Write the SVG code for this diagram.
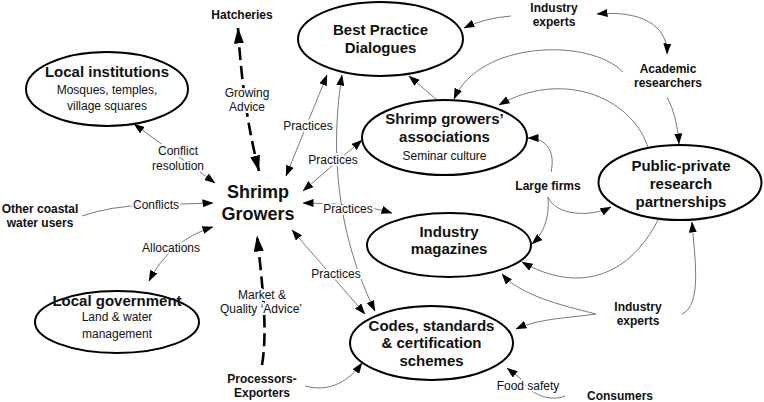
<svg xmlns="http://www.w3.org/2000/svg" width="764" height="402" viewBox="0 0 764 402">
<defs>
<marker id="ah" markerUnits="userSpaceOnUse" markerWidth="11" markerHeight="8" refX="10.5" refY="4" orient="auto-start-reverse" viewBox="0 0 11 8"><path d="M0,0 L11,4 L0,8 z" fill="#000"/></marker>
<marker id="ahb" markerUnits="userSpaceOnUse" markerWidth="16" markerHeight="10" refX="15.5" refY="5" orient="auto-start-reverse" viewBox="0 0 16 10"><path d="M0,0 L16,5 L0,10 z" fill="#000"/></marker>
</defs>
<style>
.node ellipse{fill:#fff;stroke:#000;stroke-width:2}
text{font-family:"Liberation Sans",Arial,sans-serif;text-anchor:middle;fill:#111}
.t{font-size:15px;font-weight:bold}
.st{font-size:12px}
.big{font-size:18px;font-weight:bold}
.ext{font-size:12px;font-weight:bold}
.lab{font-size:12px;stroke:#fff;stroke-width:4;paint-order:stroke;stroke-linejoin:round}
.c{fill:none;stroke:#6a6a6a;stroke-width:0.9}
.one{marker-end:url(#ah)}
.two{marker-start:url(#ah);marker-end:url(#ah)}
.d{fill:none;stroke:#000;stroke-width:2.6;stroke-dasharray:13 6}
.d1{marker-end:url(#ahb)}
.d2{marker-start:url(#ahb);marker-end:url(#ahb)}
</style>

<g id="connectors">
<path class="d d2" d="M238,28 Q243,110 259,171"/>
<path class="d d1" d="M262,365 C268,330 262,280 257,236"/>
<path class="c two" d="M134,124 L215,183"/>
<path class="c one" d="M82,216 Q110,206 150,205 L213,203"/>
<path class="c two" d="M149,281 Q170,240 213,227"/>
<path class="c two" d="M327,75 L286,176"/>
<path class="c two" d="M342,75 C333,130 330,220 375,311"/>
<path class="c two" d="M362,140 L303,191"/>
<path class="c one" d="M437,100 L409,76"/>
<path class="c one" d="M511,16 Q485,18 464,28"/>
<path class="c two" d="M597,14 C640,10 668,25 667,54"/>
<path class="c one" d="M667,97 Q677,115 679,144"/>
<path class="c one" d="M623,72 C590,38 480,40 454,99"/>
<path class="c one" d="M648,147 C630,95 560,70 499,105"/>
<path class="c one" d="M551,172 C556,150 545,138 528,138"/>
<path class="c one" d="M548,197 C555,215 590,218 611,207"/>
<path class="c one" d="M548,197 C550,220 542,235 532,244"/>
<path class="c one" d="M658,220 C630,275 580,295 522,262"/>
<path class="c one" d="M596,314 C560,305 520,295 502,274"/>
<path class="c one" d="M596,314 C570,318 540,318 516,329"/>
<path class="c one" d="M682,314 C702,305 695,260 692,222"/>
<path class="c one" d="M565,396 C550,402 530,395 520,378 L507,368"/>
<path class="c one" d="M305,386 C330,393 350,380 362,363"/>
<path class="c two" d="M303,203 Q360,203 392,213"/>
<path class="c two" d="M292,230 L365,314"/>
</g>

<g id="connector-labels">
<text class="lab" x="247" y="97">Growing</text>
<text class="lab" x="247" y="111">Advice</text>
<text class="lab" x="178" y="155">Conflict</text>
<text class="lab" x="178" y="170">resolution</text>
<text class="lab" x="156" y="209">Conflicts</text>
<text class="lab" x="171" y="252">Allocations</text>
<text class="lab" x="308" y="130">Practices</text>
<text class="lab" x="333" y="164">Practices</text>
<text class="lab" x="348" y="213">Practices</text>
<text class="lab" x="336" y="278">Practices</text>
<text class="lab" x="262" y="299">Market &amp;</text>
<text class="lab" x="261" y="313">Quality ‘Advice’</text>
<text class="lab" x="528" y="390">Food safety</text>
</g>

<g id="shrimp-growers"><text class="big" x="258" y="198">Shrimp</text><text class="big" x="258" y="220">Growers</text></g>
<g id="hatcheries"><text class="ext" x="242" y="19">Hatcheries</text></g>
<g id="industry-experts-top"><text class="ext" x="554" y="12">Industry</text><text class="ext" x="554" y="26">experts</text></g>
<g id="academic-researchers"><text class="ext" x="668" y="73">Academic</text><text class="ext" x="668" y="87">researchers</text></g>
<g id="large-firms"><text class="ext" x="548" y="190">Large firms</text></g>
<g id="industry-experts-bottom"><text class="ext" x="638" y="311">Industry</text><text class="ext" x="638" y="325">experts</text></g>
<g id="consumers"><text class="ext" x="620" y="400">Consumers</text></g>
<g id="processors-exporters"><text class="ext" x="262" y="383">Processors-</text><text class="ext" x="262" y="397">Exporters</text></g>
<g id="other-coastal"><text class="ext" x="40" y="213">Other coastal</text><text class="ext" x="40" y="227">water users</text></g>

<g id="best-practice" class="node"><ellipse cx="380.5" cy="39" rx="82.5" ry="37"/><text class="t" x="380.5" y="35">Best Practice</text><text class="t" x="380.5" y="53">Dialogues</text></g>
<g id="associations" class="node"><ellipse cx="444.5" cy="137.5" rx="82.5" ry="37.5"/><text class="t" x="444.5" y="124">Shrimp growers’</text><text class="t" x="444.5" y="142">associations</text><text class="st" x="444.5" y="160">Seminar culture</text></g>
<g id="local-institutions" class="node"><ellipse cx="107" cy="89" rx="81" ry="37"/><text class="t" x="107" y="77">Local institutions</text><text class="st" x="107" y="94">Mosques, temples,</text><text class="st" x="107" y="110">village squares</text></g>
<g id="local-government" class="node"><ellipse cx="117" cy="322" rx="82" ry="31"/><text class="t" x="117" y="306">Local government</text><text class="st" x="117" y="321">Land &amp; water</text><text class="st" x="117" y="338">management</text></g>
<g id="industry-magazines" class="node"><ellipse cx="449" cy="245" rx="82" ry="32"/><text class="t" x="449" y="237">Industry</text><text class="t" x="449" y="254">magazines</text></g>
<g id="codes" class="node"><ellipse cx="431.5" cy="343" rx="81.5" ry="37"/><text class="t" x="431.5" y="331">Codes, standards</text><text class="t" x="431.5" y="348">&amp; certification</text><text class="t" x="431.5" y="366">schemes</text></g>
<g id="public-private" class="node"><ellipse cx="680" cy="182.5" rx="81.5" ry="37.5"/><text class="t" x="681" y="171">Public-private</text><text class="t" x="681" y="189">research</text><text class="t" x="681" y="207">partnerships</text></g>
</svg>
